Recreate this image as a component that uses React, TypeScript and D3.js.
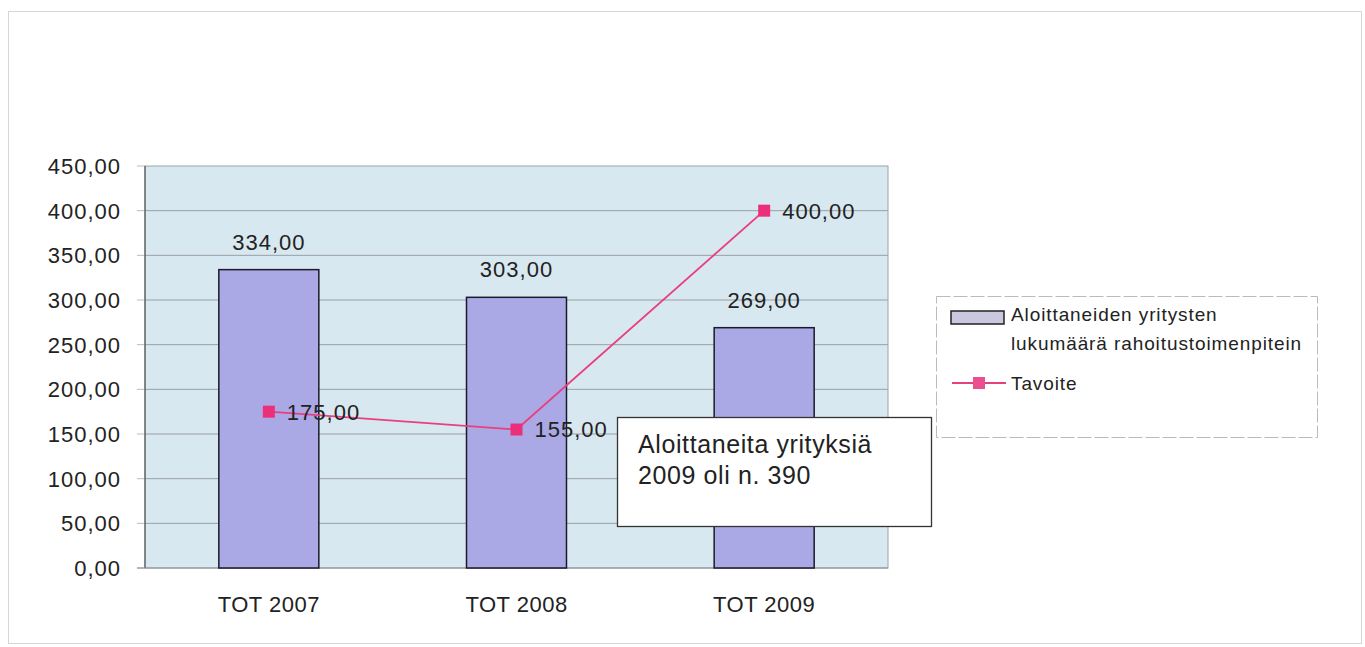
import React from "react";
import * as d3 from "d3";

const categories = ["TOT 2007", "TOT 2008", "TOT 2009"];
const barValues = [334, 303, 269];
const lineValues = [175, 155, 400];
const yTicks = [0, 50, 100, 150, 200, 250, 300, 350, 400, 450];
const legendBarLabel = ["Aloittaneiden yritysten", "lukumäärä rahoitustoimenpitein"];
const legendLineLabel = "Tavoite";
const noteLines = ["Aloittaneita yrityksiä", "2009 oli n. 390"];

const fmt = (v: number) => v.toFixed(2).replace(".", ",");

export default function App() {
  const W = 1365, H = 647;
  const plot = { x0: 145, x1: 888, y0: 166, y1: 568 };
  const x = d3.scaleBand<string>().domain(categories).range([plot.x0, plot.x1]).paddingInner(0.6).paddingOuter(0.3);
  const xc = (c: string) => (x(c) as number) + x.bandwidth() / 2;
  const y = d3.scaleLinear().domain([0, 450]).range([plot.y1, plot.y0]);
  const line = d3.line<number>().x((_, i) => xc(categories[i])).y((d) => y(d));
  const font = "'Liberation Sans', Arial, sans-serif";
  const textCol = "#222";
  const bw = 100;

  return (
    <svg width={W} height={H} style={{ position: "absolute", left: 0, top: 0, background: "#fff" }} fontFamily={font}>
      <rect x={8.5} y={11.5} width={1353} height={632} fill="none" stroke="#d6d6d6" strokeWidth={1} />
      <rect x={plot.x0} y={plot.y0} width={plot.x1 - plot.x0} height={plot.y1 - plot.y0} fill="#d8e8f0" stroke="#9aa4a8" strokeWidth={1} />
      {yTicks.map((t) => (
        <g key={t}>
          {t > 0 && t < 450 && (
            <line x1={plot.x0} x2={plot.x1} y1={y(t)} y2={y(t)} stroke="#9a9fa3" strokeWidth={1} />
          )}
          <line x1={plot.x0 - 8} x2={plot.x0} y1={y(t)} y2={y(t)} stroke="#bbb" strokeWidth={1} />
          <text x={121} y={y(t)} dy="0.36em" textAnchor="end" fontSize={22} letterSpacing={1} fill={textCol}>
            {fmt(t)}
          </text>
        </g>
      ))}
      <line x1={plot.x0} x2={plot.x0} y1={plot.y0} y2={plot.y1} stroke="#555" strokeWidth={1.2} />
      <line x1={plot.x0 - 8} x2={plot.x1} y1={plot.y1} y2={plot.y1} stroke="#8a9094" strokeWidth={1.2} />
      {categories.map((c, i) => (
        <g key={c}>
          <rect x={xc(c) - bw / 2} y={y(barValues[i])} width={bw} height={plot.y1 - y(barValues[i])} fill="#aaa9e6" stroke="#1a1a2a" strokeWidth={1.5} />
          <text x={xc(c)} y={y(barValues[i]) - 20} textAnchor="middle" fontSize={22} letterSpacing={1} fill={textCol}>
            {fmt(barValues[i])}
          </text>
          <text x={xc(c)} y={612} textAnchor="middle" fontSize={22} letterSpacing={0.5} fill={textCol}>
            {c}
          </text>
        </g>
      ))}
      <path d={line(lineValues) as string} fill="none" stroke="#e8407f" strokeWidth={1.8} />
      {lineValues.map((v, i) => (
        <g key={i}>
          <rect x={xc(categories[i]) - 6} y={y(v) - 6} width={12} height={12} fill="#ec2f7a" />
          <text x={xc(categories[i]) + 18} y={y(v)} dy="0.36em" fontSize={22} letterSpacing={1} fill={textCol}>
            {fmt(v)}
          </text>
        </g>
      ))}
      <rect x={617.5} y={417.5} width={314} height={109} fill="#fff" stroke="#333" strokeWidth={1.3} />
      {noteLines.map((s, i) => (
        <text key={i} x={638} y={453 + i * 31} fontSize={25} letterSpacing={0.6} fill={textCol}>{s}</text>
      ))}
      <rect x={936.5} y={296.5} width={381} height={141} fill="#fff" stroke="#bbb" strokeDasharray="14 3" strokeWidth={1} />
      <rect x={951} y={311} width={53} height={13} fill="#c9c8de" stroke="#222" strokeWidth={1.5} />
      {legendBarLabel.map((s, i) => (
        <text key={i} x={1011} y={321 + i * 29} fontSize={19} letterSpacing={0.9} fill={textCol}>{s}</text>
      ))}
      <line x1={952} x2={1006} y1={383} y2={383} stroke="#e8407f" strokeWidth={2} />
      <rect x={973} y={377} width={12} height={12} fill="#ec4f8f" />
      <text x={1011} y={383} dy="0.36em" fontSize={19} letterSpacing={0.9} fill={textCol}>{legendLineLabel}</text>
    </svg>
  );
}
